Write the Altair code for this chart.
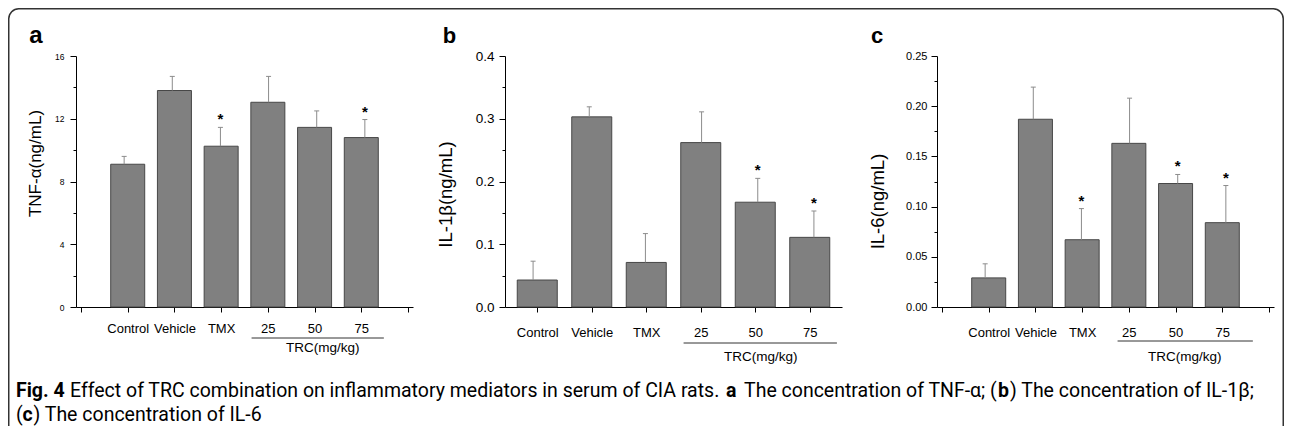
import altair as alt
import pandas as pd

# ---------------- data ----------------
groups = ["Control", "Vehicle", "TMX", "25", "50", "75"]
positions = [1, 2, 3, 4, 5, 6]

tnf_mean = [9.1, 13.8, 10.25, 13.05, 11.45, 10.8]
tnf_sd = [0.5, 0.9, 1.2, 1.65, 1.05, 1.15]
tnf_sig = [False, False, True, False, False, True]

il1b_mean = [0.043, 0.303, 0.071, 0.262, 0.167, 0.111]
il1b_sd = [0.030, 0.016, 0.046, 0.049, 0.038, 0.042]
il1b_sig = [False, False, False, False, True, True]

il6_mean = [0.029, 0.187, 0.067, 0.163, 0.123, 0.084]
il6_sd = [0.014, 0.032, 0.031, 0.045, 0.009, 0.037]
il6_sig = [False, False, True, False, True, True]

tnf_major = [0, 4, 8, 12, 16]
tnf_minor = [2, 6, 10, 14]
il1b_major = [0, 0.1, 0.2, 0.3, 0.4]
il1b_minor = [0.05, 0.15, 0.25, 0.35]
il6_major = [0, 0.05, 0.10, 0.15, 0.20, 0.25]
il6_minor = [0.025, 0.075, 0.125, 0.175, 0.225]

W, H = 1276, 418
Y_BOT, Y_TOP = 299, 48
FONT = "Liberation Sans"
LABEL_EXPR = "['','Control','Vehicle','TMX','25','50','75',''][datum.value]"


def panel(mean, sd, sig, xdom, xr, xticks, ydom, ymajor, yminor, yfmt,
          barw, ylab_size, ylab_pad, ytitle, ytitle_size, title_dx, title_y,
          xlab_pad, line_y, line_off, trc_y, trc_dx):
    df = pd.DataFrame({
        "pos": positions, "group": groups, "mean": mean,
        "upper": [m + s for m, s in zip(mean, sd)], "sig": sig,
    })
    xs = alt.Scale(domain=xdom, range=xr, nice=False, zero=False)
    ys = alt.Scale(domain=ydom, range=[Y_BOT, Y_TOP], nice=False, zero=False)
    yoff = -xr[0]
    xoff = Y_BOT - H
    base = alt.Chart(df)

    bars = base.mark_bar(size=barw, color="#808080", stroke="#474747", strokeWidth=1).encode(
        x=alt.X("pos:Q", scale=xs, axis=alt.Axis(
            orient="bottom", offset=xoff, values=xticks, labelExpr=LABEL_EXPR,
            tickSize=5, labelPadding=xlab_pad, labelFontSize=13, labelFont=FONT,
            labelColor="black", domainColor="black", tickColor="black",
            labelFlush=False, labelOverlap=False, labelBaseline="middle",
            title=None, grid=False)),
        y=alt.Y("mean:Q", scale=ys, axis=alt.Axis(
            orient="left", offset=yoff, values=ymajor, format=yfmt,
            tickSize=6, labelPadding=ylab_pad, labelFontSize=ylab_size, labelFont=FONT,
            labelColor="black", domainColor="black", tickColor="black",
            labelOverlap=False, labelFlush=False,
            title=ytitle, titleFont=FONT, titleFontSize=ytitle_size,
            titleFontWeight="normal", titleColor="black", titleAngle=270,
            titleAlign="center", titleBaseline="middle",
            titleX=title_dx, titleY=title_y, grid=False)),
    )
    err = base.mark_rule(color="#8c8c8c", strokeWidth=1).encode(
        x=alt.X("pos:Q", scale=xs, axis=None),
        y=alt.Y("upper:Q", scale=ys, axis=alt.Axis(
            orient="left", offset=yoff, values=yminor, labels=False, domain=False,
            tickSize=3, tickColor="black", title=None, grid=False)),
        y2="mean:Q",
    )
    caps = base.mark_rule(color="#8c8c8c", strokeWidth=1, xOffset=-2.5, x2Offset=2.5).encode(
        x=alt.X("pos:Q", scale=xs, axis=None),
        x2="pos:Q",
        y=alt.Y("upper:Q", scale=ys, axis=None),
    )
    stars = base.transform_filter("datum.sig").mark_text(
        text="*", fontSize=15, fontWeight="bold", font=FONT, color="black",
        baseline="alphabetic", dy=-3).encode(
        x=alt.X("pos:Q", scale=xs, axis=None),
        y=alt.Y("upper:Q", scale=ys, axis=None),
    )
    trc = base.transform_filter("datum.pos >= 4").transform_aggregate(
        lo="min(pos)", hi="max(pos)", mid="mean(pos)")
    line = trc.mark_rule(color="#333333", strokeWidth=1,
                         xOffset=line_off[0], x2Offset=line_off[1]).encode(
        x=alt.X("lo:Q", scale=xs, axis=None),
        x2="hi:Q",
        y=alt.value(line_y),
    )
    trc_text = trc.mark_text(text="TRC(mg/kg)", fontSize=13.5, font=FONT, color="black",
                             baseline="middle", dx=trc_dx).encode(
        x=alt.X("mid:Q", scale=xs, axis=None),
        y=alt.value(trc_y),
    )
    return [bars, err, caps, stars, line, trc_text]


layers = []
layers += panel(tnf_mean, tnf_sd, tnf_sig, [0, 7], [68, 405], list(range(8)),
                [0, 16], tnf_major, tnf_minor, "d", 34, 8.5, 6,
                "TNF-\u03b1(ng/mL)", 17, -41, 155, 16, 330, (-17, 19), 340, 6)
layers += panel(il1b_mean, il1b_sd, il1b_sig, [0.5, 6.5], [497, 834], positions,
                [0, 0.4], il1b_major, il1b_minor, ".1f", 40, 13.5, 5,
                "IL-1\u03b2(ng/mL)", 18.5, -60, 186, 20, 335, (-18, 23), 349, 3)
layers += panel(il6_mean, il6_sd, il6_sig, [0, 7], [929, 1266], list(range(8)),
                [0, 0.25], il6_major, il6_minor, ".2f", 34, 11, 4,
                "IL-6(ng/mL)", 18.5, -60, 193, 20, 333, (-12, 27), 349, 7)


def label(text, x, y, size, weight="normal", font=FONT, align="left", baseline="alphabetic"):
    return alt.Chart(pd.DataFrame({"t": [text]})).mark_text(
        fontSize=size, fontWeight=weight, font=font, color="black",
        align=align, baseline=baseline).encode(
        text="t:N", x=alt.value(x), y=alt.value(y))


# panel letters
layers += [
    label("a", 28, 35, 24, "bold", align="center"),
    label("b", 441.5, 35, 22, "bold", align="center"),
    label("c", 869, 35, 22, "bold", align="center"),
]

# caption
CAP = "Roboto"
CS = 19.5
L1, L2 = 389, 413
layers += [
    label("Fig. 4", 8, L1, CS, "bold", CAP),
    label("Effect of TRC combination on inflammatory mediators in serum of CIA rats.", 62, L1, CS, font=CAP),
    label("a", 718, L1, CS, "bold", CAP),
    label("The concentration of TNF-\u03b1; (", 736, L1, CS, font=CAP),
    label("b", 990, L1, CS, "bold", CAP),
    label(") The concentration of IL-1\u03b2;", 1002, L1, CS, font=CAP),
    label("(", 8, L2, CS, font=CAP),
    label("c", 14.5, L2, CS, "bold", CAP),
    label(") The concentration of IL-6", 25.5, L2, CS, font=CAP),
]

# rounded frame
frame = alt.Chart(pd.DataFrame({"k": [0]})).mark_rect(
    cornerRadius=10, fillOpacity=0, stroke="#333333", strokeWidth=1.5).encode(
    x=alt.value(0.75), x2=alt.value(W - 0.75), y=alt.value(0.75), y2=alt.value(H + 20))
layers.append(frame)

chart = alt.layer(*layers).resolve_scale(
    x="independent", y="independent"
).resolve_axis(
    x="independent", y="independent"
).properties(
    width=W, height=H, autosize=alt.AutoSizeParams(type="none"), padding=0
).configure_view(stroke=None).configure_axis(grid=False)

chart.save("out.html", embed_options={"renderer": "svg", "actions": False})
